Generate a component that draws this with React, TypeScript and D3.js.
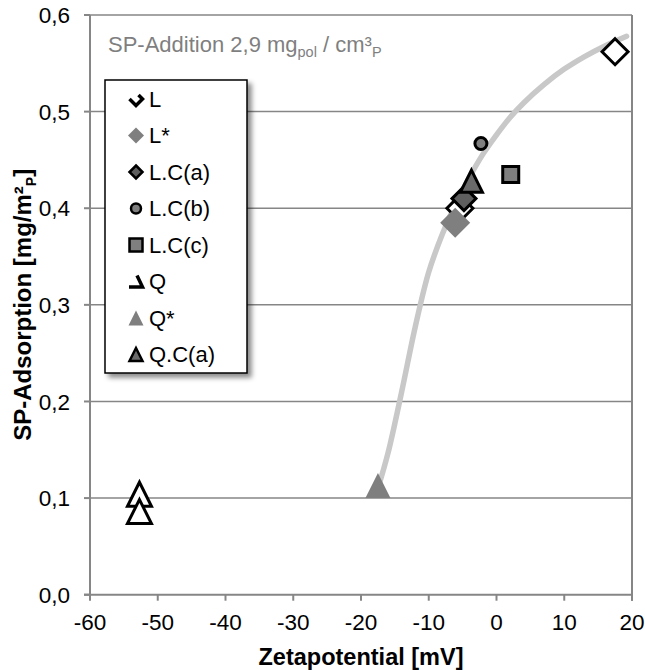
import React from "react";
import * as d3 from "d3";

const seriesNames = ["L", "L*", "L.C(a)", "L.C(b)", "L.C(c)", "Q", "Q*", "Q.C(a)"];
const seriesX: number[][] = [[17.5, -5.4], [-6.1], [-4.8], [-2.3], [2.1], [-52.7, -52.7], [-17.5], [-3.7]];
const seriesY: number[][] = [[0.562, 0.4], [0.385], [0.41], [0.467], [0.435], [0.104, 0.086], [0.113], [0.428]];

const trendX = [-17.5, -16, -14, -12, -10, -8, -6, -4, -2, 0, 2, 4, 7, 10, 13, 16, 19.2];
const trendY = [0.11, 0.147, 0.21, 0.277, 0.334, 0.373, 0.405, 0.432, 0.456, 0.476, 0.494, 0.509, 0.528, 0.544, 0.557, 0.568, 0.578];

const xTicks = [-60, -50, -40, -30, -20, -10, 0, 10, 20];
const yTicks = [0, 0.1, 0.2, 0.3, 0.4, 0.5, 0.6];

const W = 645, H = 670;
const m = { left: 90, right: 632, top: 15, bottom: 594.7 };
const FONT = "Liberation Sans, Arial, sans-serif";

type Style = { shape: string; fill: string; stroke: string; size: number; legSize: number };
const styles: Style[] = [
  { shape: "diamond", fill: "#ffffff", stroke: "#000", size: 13, legSize: 7 },
  { shape: "diamond", fill: "#7f7f7f", stroke: "none", size: 15, legSize: 8 },
  { shape: "diamond", fill: "#5f5f5f", stroke: "#000", size: 12, legSize: 6.5 },
  { shape: "circle", fill: "#7f7f7f", stroke: "#000", size: 6, legSize: 5 },
  { shape: "square", fill: "#7f7f7f", stroke: "#000", size: 8, legSize: 6.5 },
  { shape: "triangle", fill: "#ffffff", stroke: "#000", size: 12, legSize: 7 },
  { shape: "triangle", fill: "#7f7f7f", stroke: "none", size: 12.5, legSize: 7.5 },
  { shape: "triangle", fill: "#6a6a6a", stroke: "#000", size: 11, legSize: 6.5 },
];

function markerPath(shape: string, cx: number, cy: number, s: number): string {
  if (shape === "diamond") return `M${cx},${cy - s}L${cx + s},${cy}L${cx},${cy + s}L${cx - s},${cy}Z`;
  if (shape === "square") return `M${cx - s},${cy - s}H${cx + s}V${cy + s}H${cx - s}Z`;
  if (shape === "triangle") return `M${cx},${cy - s}L${cx + s},${cy + s}L${cx - s},${cy + s}Z`;
  return "";
}

function Marker({ st, cx, cy, s, sw }: { st: Style; cx: number; cy: number; s: number; sw: number }) {
  const w = st.stroke === "none" ? 0 : sw;
  if (st.shape === "circle")
    return <circle cx={cx} cy={cy} r={s} fill={st.fill} stroke={st.stroke} strokeWidth={w} />;
  return <path d={markerPath(st.shape, cx, cy, s)} fill={st.fill} stroke={st.stroke} strokeWidth={w} strokeLinejoin="miter" />;
}

export default function App() {
  const x = d3.scaleLinear().domain([-60, 20]).range([m.left, m.right]);
  const y = d3.scaleLinear().domain([0, 0.6]).range([m.bottom, m.top]);
  const line = d3
    .line<number>()
    .x((_, i) => x(trendX[i]))
    .y((d) => y(d))
    .curve(d3.curveCatmullRom.alpha(0.5));

  const legX = 105, legY = 80, legW = 142, legH = 293;
  const legStep = 36.5, legStart = 99;

  return (
    <svg width={W} height={H} style={{ position: "absolute", left: 0, top: 0, background: "#fff" }} fontFamily={FONT}>
      <defs>
        <filter id="sh" x="-20%" y="-20%" width="150%" height="150%">
          <feDropShadow dx="4" dy="4" stdDeviation="2.5" floodColor="#000" floodOpacity="0.45" />
        </filter>
      </defs>
      <rect width={W} height={H} fill="#fff" />
      {yTicks.filter((t) => t > 0).map((t) => (
        <line key={t} x1={m.left} x2={m.right} y1={y(t)} y2={y(t)} stroke="#868686" strokeWidth={1.5} />
      ))}
      <line x1={m.right} x2={m.right} y1={m.top} y2={m.bottom + 6} stroke="#868686" strokeWidth={2} />
      <line x1={m.left} x2={m.left} y1={m.top} y2={m.bottom} stroke="#868686" strokeWidth={2} />
      <line x1={m.left - 6} x2={m.right} y1={m.bottom} y2={m.bottom} stroke="#868686" strokeWidth={2} />
      {yTicks.map((t) => (
        <g key={t}>
          <line x1={m.left - 6} x2={m.left} y1={y(t)} y2={y(t)} stroke="#868686" strokeWidth={2} />
          <text x={70} y={y(t)} dy="0.36em" textAnchor="end" fontSize={22.5} fill="#000">
            {d3.format(".1f")(t).replace(".", ",")}
          </text>
        </g>
      ))}
      {xTicks.map((t) => (
        <g key={t}>
          <line x1={x(t)} x2={x(t)} y1={m.bottom} y2={m.bottom + 6} stroke="#868686" strokeWidth={2} />
          <text x={x(t)} y={630} textAnchor="middle" fontSize={22.5} fill="#000">
            {t}
          </text>
        </g>
      ))}
      <text x={(m.left + m.right) / 2} y={665} textAnchor="middle" fontSize={23.5} fontWeight="bold">
        Zetapotential [mV]
      </text>
      <text transform={`translate(31,${(m.top + m.bottom) / 2}) rotate(-90)`} textAnchor="middle" fontSize={24} fontWeight="bold">
        SP-Adsorption [mg/m²<tspan fontSize={14} dy={5}>P</tspan><tspan dy={-5}>]</tspan>
      </text>
      <text x={108} y={52} fontSize={22} fill="#7f7f7f">
        SP-Addition 2,9 mg<tspan fontSize={14.5} dy={5}>pol</tspan>
        <tspan dy={-5}> / cm³</tspan>
        <tspan fontSize={14.5} dy={5}>P</tspan>
      </text>
      <path d={line(trendY) || ""} fill="none" stroke="#c8c8c8" strokeWidth={5.5} strokeLinecap="round" />
      {seriesNames.map((name, si) =>
        seriesX[si].map((vx, j) => (
          <Marker key={name + j} st={styles[si]} cx={x(vx)} cy={y(seriesY[si][j])} s={styles[si].size} sw={3} />
        ))
      )}
      <rect x={legX} y={legY} width={legW} height={legH} fill="#fff" stroke="#000" strokeWidth={1.5} filter="url(#sh)" />
      {seriesNames.map((name, i) => {
        const cy = legStart + i * legStep;
        const cx = 136;
        let mk: React.ReactNode;
        if (i === 0)
          mk = <path d={`M${cx - 6.5},${cy}L${cx},${cy + 6.5}L${cx + 6.5},${cy}L${cx + 2.5},${cy - 4}`} fill="none" stroke="#000" strokeWidth={3.5} />;
        else if (i === 5)
          mk = <path d={`M${cx + 1},${cy - 6}L${cx + 6.5},${cy + 5.5}L${cx - 7},${cy + 5.5}`} fill="none" stroke="#000" strokeWidth={3.5} />;
        else mk = <Marker st={styles[i]} cx={cx} cy={cy} s={styles[i].legSize} sw={2.5} />;
        return (
          <g key={name}>
            {mk}
            <text x={149} y={cy} dy="0.36em" fontSize={22} fill="#000">
              {name}
            </text>
          </g>
        );
      })}
    </svg>
  );
}
